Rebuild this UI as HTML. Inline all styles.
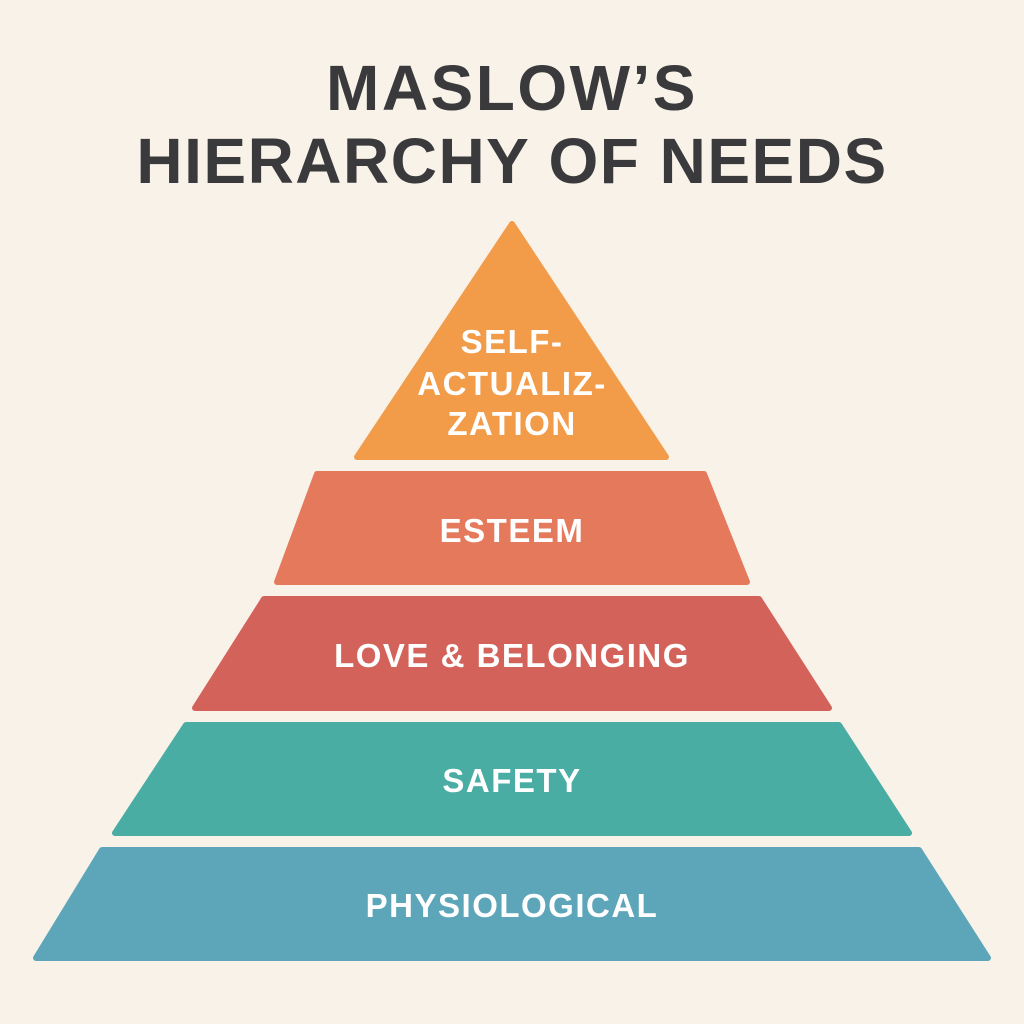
<!DOCTYPE html>
<html><head><meta charset="utf-8"><style>
html,body{margin:0;padding:0;background:#F8F2E9;}
svg{display:block}
</style></head><body>
<svg width="1024" height="1024" viewBox="0 0 1024 1024" xmlns="http://www.w3.org/2000/svg">
<rect width="1024" height="1024" fill="#F8F2E9"/>
<g font-family="Liberation Sans, sans-serif" font-weight="bold" fill="#3A3A3C" text-anchor="middle">
<text x="512" y="110" font-size="64" letter-spacing="2.5">MASLOW’S</text>
<text x="512" y="183" font-size="64" letter-spacing="1.5">HIERARCHY OF NEEDS</text>
</g>
<g stroke-linejoin="round" stroke-width="6">
<polygon points="512,224 666,457 357,457" fill="#F29B48" stroke="#F29B48"/>
<polygon points="317,474 704,474 747,582 277,582" fill="#E47A5B" stroke="#E47A5B"/>
<polygon points="264,599 759,599 829,708 195,708" fill="#D3635A" stroke="#D3635A"/>
<polygon points="186,725 839,725 909,833 115,833" fill="#4AADA4" stroke="#4AADA4"/>
<polygon points="102,850 919,850 988,958 36,958" fill="#5DA6B9" stroke="#5DA6B9"/>
</g>
<g font-family="Liberation Sans, sans-serif" font-weight="bold" fill="#FFFFFF" text-anchor="middle" font-size="33" letter-spacing="1.5">
<text x="512" y="353">SELF-</text>
<text x="512" y="395">ACTUALIZ-</text>
<text x="512" y="435">ZATION</text>
<text x="512" y="542">ESTEEM</text>
<text x="512" y="667">LOVE &amp; BELONGING</text>
<text x="512" y="792">SAFETY</text>
<text x="512" y="917">PHYSIOLOGICAL</text>
</g>
</svg>
</body></html>
